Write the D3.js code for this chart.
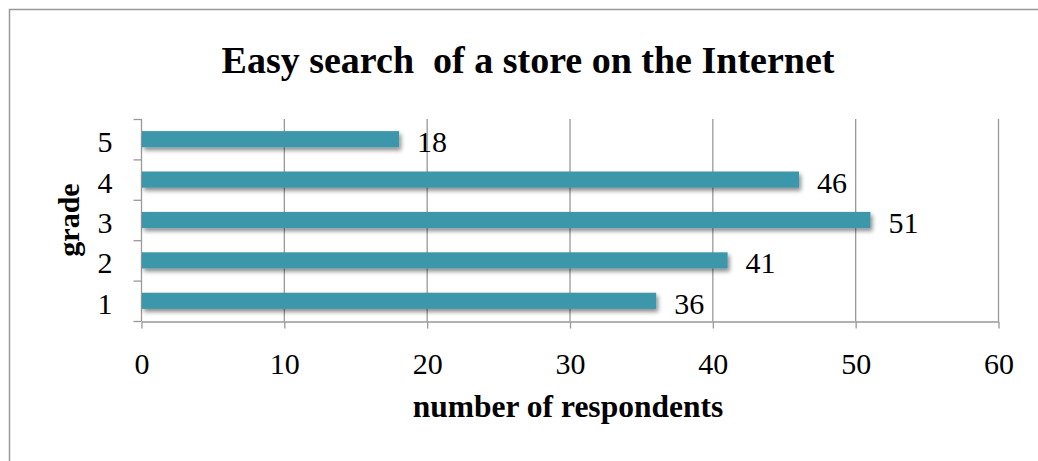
<!DOCTYPE html>
<html>
<head>
<meta charset="utf-8">
<script src="https://cdn.jsdelivr.net/npm/d3@7"></script>
<style>
  html, body { margin: 0; padding: 0; background: #fff; }
  svg { display: block; }
  text { font-family: "Liberation Serif", "Times New Roman", serif; fill: #000; }
</style>
</head>
<body>
<svg id="chart" width="1038" height="461"></svg>
<script>
// Survey answers: how easy it was to find the store online
const grades = ["1", "2", "3", "4", "5"];
const respondents = [36, 41, 51, 46, 18];
const xTicks = [0, 10, 20, 30, 40, 50, 60];

const chartTitle = "Easy search\u00a0 of a store on the Internet";
const xTitle = "number of respondents";
const yTitle = "grade";

const W = 1038, H = 461;
const plot = { left: 141, right: 998, top: 119, bottom: 321 };
const fs = 30;

const svg = d3.select("#chart");

// soft drop shadow under each bar
const defs = svg.append("defs");
const f = defs.append("filter").attr("id", "shadow")
  .attr("x", "-5%").attr("y", "-50%").attr("width", "110%").attr("height", "220%");
f.append("feDropShadow").attr("dx", 2).attr("dy", 3).attr("stdDeviation", 2)
  .attr("flood-color", "#000").attr("flood-opacity", 0.45);

// outer frame
svg.append("path")
  .attr("d", `M9.5,${H} V9.5 H${W}`)
  .attr("fill", "none").attr("stroke", "#999").attr("stroke-width", 1.5);

const x = d3.scaleLinear().domain([0, 60]).range([plot.left, plot.right]);
const y = d3.scaleBand().domain(grades.slice().reverse())
  .range([plot.top, plot.bottom]).paddingInner(0.6).paddingOuter(0.3);
const yEdge = d3.scaleBand().domain(grades.slice().reverse()).range([plot.top, plot.bottom]);

// vertical gridlines
svg.append("g").selectAll("line").data(xTicks.slice(1)).join("line")
  .attr("x1", d => x(d) + 0.5).attr("x2", d => x(d) + 0.5)
  .attr("y1", plot.top).attr("y2", plot.bottom)
  .attr("stroke", "#999").attr("stroke-width", 1.3);

// x axis
const xAxis = svg.append("g")
  .attr("transform", `translate(0.5,${plot.bottom + 0.5})`)
  .call(d3.axisBottom(x).tickValues(xTicks).tickSize(7).tickPadding(0).tickSizeOuter(0));
xAxis.select(".domain").attr("stroke", "#999").attr("stroke-width", 1.3);
xAxis.selectAll(".tick line").attr("stroke", "#999").attr("stroke-width", 1.3);
xAxis.selectAll(".tick text")
  .attr("y", 52).attr("dy", null)
  .attr("font-family", "Liberation Serif").attr("font-size", fs).attr("fill", "#000");

// y axis: ticks sit on the band boundaries
const yg = svg.append("g").attr("transform", `translate(${plot.left + 0.5},0)`);
yg.append("line").attr("y1", plot.top).attr("y2", plot.bottom)
  .attr("stroke", "#999").attr("stroke-width", 1.3);
const bounds = yEdge.domain().map(d => yEdge(d)).concat([plot.bottom]);
yg.selectAll("line.tk").data(bounds).join("line").attr("class", "tk")
  .attr("x1", -8).attr("x2", 0)
  .attr("y1", d => d + 0.5).attr("y2", d => d + 0.5)
  .attr("stroke", "#999").attr("stroke-width", 1.3);
yg.selectAll("text").data(grades).join("text")
  .attr("x", -29).attr("y", d => yEdge(d) + yEdge.bandwidth() / 2 + 13)
  .attr("text-anchor", "end")
  .attr("font-size", fs).text(d => d);

// bars
const rows = grades.map((g, i) => ({ g, v: respondents[i] }));
svg.append("g").selectAll("rect").data(rows).join("rect")
  .attr("x", x(0) + 1).attr("y", d => y(d.g))
  .attr("width", d => x(d.v) - x(0)).attr("height", y.bandwidth())
  .attr("fill", "#3d97ab").attr("filter", "url(#shadow)");

// value labels
svg.append("g").selectAll("text").data(rows).join("text")
  .attr("x", d => x(d.v) + 19).attr("y", d => y(d.g) + y.bandwidth() / 2 + 13)
  .attr("font-size", fs).text(d => d.v);

// titles
svg.append("text").attr("x", 528).attr("y", 73).attr("text-anchor", "middle")
  .attr("font-size", 38).attr("font-weight", "bold").text(chartTitle);
svg.append("text").attr("x", 568).attr("y", 417).attr("text-anchor", "middle")
  .attr("font-size", 31.5).attr("font-weight", "bold").text(xTitle);
svg.append("text").attr("transform", "translate(79,220) rotate(-90)")
  .attr("text-anchor", "middle").attr("font-size", fs).attr("font-weight", "bold").text(yTitle);
</script>
</body>
</html>
